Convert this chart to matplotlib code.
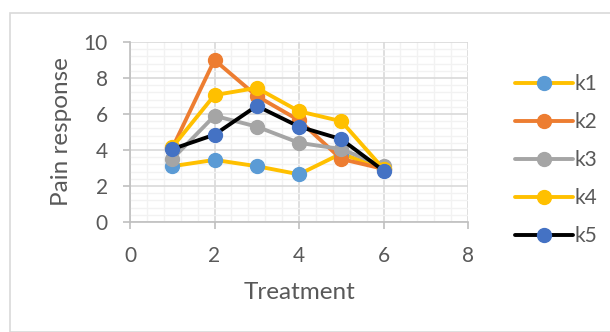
import matplotlib
matplotlib.use("Agg")
import matplotlib.pyplot as plt
from matplotlib.ticker import MultipleLocator
from matplotlib.patches import Rectangle

plt.rcParams['font.family'] = ['Lato', 'DejaVu Sans']

treatment = [1, 2, 3, 4, 5, 6]
k1 = [3.1, 3.45, 3.1, 2.65, 3.8, 2.95]
k2 = [4.1, 9.0, 7.0, 5.65, 3.5, 2.95]
k3 = [3.5, 5.9, 5.3, 4.4, 4.05, 3.1]
k4 = [4.15, 7.05, 7.45, 6.15, 5.6, 2.95]
k5 = [4.05, 4.85, 6.45, 5.3, 4.6, 2.85]
series_names = ['k1', 'k2', 'k3', 'k4', 'k5']
line_colors = ['#FFC000', '#ED7D31', '#A5A5A5', '#FFC000', '#000000']
marker_colors = ['#5B9BD5', '#ED7D31', '#A5A5A5', '#FFC000', '#4472C4']

fig = plt.figure(figsize=(6.1, 3.32), dpi=100)
fig.patches.append(Rectangle((10/610, 0), 1, 1 - 13/332, transform=fig.transFigure,
                             fill=False, edgecolor='#D9D9D9', linewidth=1.2))
ax = fig.add_axes([130/610, 1 - 222/332, 338/610, 180/332])

for name, ys, lc, mc in zip(series_names, [k1, k2, k3, k4, k5], line_colors, marker_colors):
    ax.plot(treatment, ys, color=lc, linewidth=2.8, marker='o', markersize=10,
            markerfacecolor=mc, markeredgecolor=mc, label=name, solid_capstyle='round')

ax.set_xlim(0, 8)
ax.set_ylim(0, 10)
ax.xaxis.set_major_locator(MultipleLocator(2))
ax.yaxis.set_major_locator(MultipleLocator(2))
ax.xaxis.set_minor_locator(MultipleLocator(0.4))
ax.yaxis.set_minor_locator(MultipleLocator(0.4))
ax.grid(which='major', color='#D9D9D9', linewidth=1.2, zorder=0)
ax.grid(which='minor', color='#F2F2F2', linewidth=1.0, zorder=0)
ax.set_axisbelow(True)
for s in ['top', 'right']:
    ax.spines[s].set_visible(False)
for s in ['left', 'bottom']:
    ax.spines[s].set_color('#BFBFBF')
    ax.spines[s].set_linewidth(1.2)
ax.tick_params(which='major', length=5, color='#BFBFBF', width=1.2,
               labelsize=15, labelcolor='#595959')
ax.tick_params(axis='x', pad=12)
ax.tick_params(axis='y', pad=11)
ax.tick_params(which='minor', length=0)
ax.set_xlabel('Treatment', fontsize=17.5, color='#595959', labelpad=12)
ax.set_ylabel('Pain response', fontsize=17.5, color='#595959', labelpad=8)

leg = fig.legend(loc='center left', bbox_to_anchor=(507/610, 1 - 160/332), frameon=False,
                 fontsize=15, labelcolor='#595959', handlelength=2.75, labelspacing=0.86,
                 handletextpad=0.1, borderaxespad=0)

fig.savefig('out.png', dpi=100)
